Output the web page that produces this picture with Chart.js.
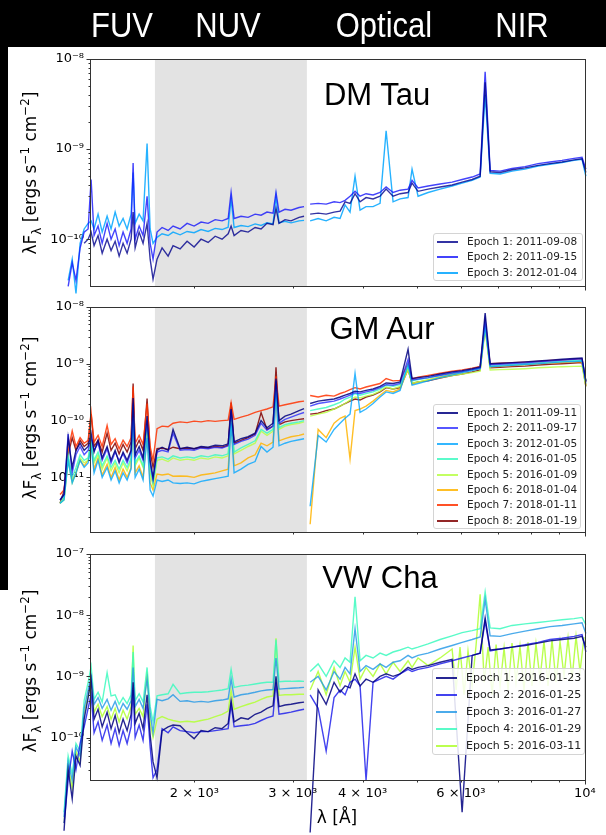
<!DOCTYPE html>
<html>
<head>
<meta charset="utf-8">
<script src="https://cdn.jsdelivr.net/npm/chart.js@4.4.1/dist/chart.umd.min.js"></script>
<style>
  body { margin: 0; background: #fff; }
  #page { position: relative; width: 606px; height: 835px; overflow: hidden; background: #fff; font-family: 'DejaVu Sans', sans-serif; }
  .black { position: absolute; background: #000; }
  canvas { position: absolute; left: 0; top: 0; }
  .region { position: absolute; top: 25px; color: #fff; font: 31px 'Liberation Sans', Arial, sans-serif; transform: translate(-50%, -50%) scaleY(1.15); white-space: nowrap; z-index: 5; }
  .star { position: absolute; color: #000; font: 31px 'Liberation Sans', Arial, sans-serif; transform: translate(-50%, -50%); white-space: nowrap; z-index: 5; }
  .ylab { position: absolute; left: 31px; font-size: 17px; color: #000; white-space: nowrap; transform: translate(-50%, -50%) rotate(-90deg); z-index: 5; }
  .ylab sub, .ylab sup { font-size: 70%; }
  .xlab { position: absolute; left: 337px; top: 817px; font-size: 17px; transform: translate(-50%, -50%); white-space: nowrap; z-index: 5; }
  .legend { position: absolute; box-sizing: border-box; background: rgba(255,255,255,0.85); border: 1px solid #d4d4d4; border-radius: 3px; font-size: 10.5px; color: #222; padding: 0 0 0 3px; z-index: 6; }
  .legend .row { height: 15.4px; line-height: 15.4px; white-space: nowrap; }
  .legend i { display: inline-block; width: 21px; height: 0; border-top: 2px solid; vertical-align: middle; margin-right: 9px; }
  #legVw { font-size: 11px; }
  #legVw .row { height: 17px; line-height: 17px; }
</style>
</head>
<body>
<div id="page">
  <div class="black" style="left:0;top:0;width:606px;height:47px"></div>
  <div class="black" style="left:0;top:47px;width:8px;height:543px"></div>
  <canvas id="dmTau" width="606" height="835"></canvas>
  <canvas id="gmAur" width="606" height="835"></canvas>
  <canvas id="vwCha" width="606" height="835"></canvas>
  <div class="region" style="left:122px">FUV</div>
  <div class="region" style="left:228px">NUV</div>
  <div class="region" style="left:384px">Optical</div>
  <div class="region" style="left:522px">NIR</div>
  <div class="star" style="left:377px;top:95px">DM Tau</div>
  <div class="star" style="left:382px;top:329px">GM Aur</div>
  <div class="star" style="left:380px;top:578px">VW Cha</div>
  <div class="ylab" style="top:173px">λF<sub>λ</sub> [ergs s<sup>−1</sup> cm<sup>−2</sup>]</div>
  <div class="ylab" style="top:418px">λF<sub>λ</sub> [ergs s<sup>−1</sup> cm<sup>−2</sup>]</div>
  <div class="ylab" style="top:671px">λF<sub>λ</sub> [ergs s<sup>−1</sup> cm<sup>−2</sup>]</div>
  <div class="xlab">λ [Å]</div>
  <div class="legend" id="legDm" style="left:433px;top:233px;width:150px"></div>
  <div class="legend" id="legGm" style="left:433px;top:404px;width:148px"></div>
  <div class="legend" id="legVw" style="left:432px;top:668px;width:153px"></div>
</div>
<script>
// wavelengths in Angstrom, shared by all three panels
const wavelength = [
  1150, 1169, 1189, 1209, 1228, 1249, 1270, 1291,
  1307, 1323, 1345, 1368, 1396, 1419, 1443, 1467, 1491, 1516, 1541, 1554, 1567, 1593, 1619, 1646, 1667, 1687,
  1715, 1751, 1795, 1832, 1886, 1941, 1998, 2056, 2117, 2179, 2242, 2299, 2327, 2356, 2424, 2496, 2569, 2633, 2698, 2766, 2800, 2835, 2906, 2979, 3079, 3143, 3183,
  3223, 3331, 3443, 3557, 3646, 3722, 3799, 3878, 3959, 4058, 4177, 4299, 4408, 4536, 4669, 4825, 4905, 5028, 5240, 5506, 5785, 6029, 6283, 6494, 6629, 6767, 7050, 7406, 7813, 8245, 8661, 9100, 9562, 9882, 10040
];
// finer sampling of the red end, used for the noisy VW Cha epoch 5 spectrum
const redWavelength = [
  5506, 5785, 5882, 5977, 6077, 6177, 6281, 6385, 6494, 6602, 6711, 6823, 6935, 7050, 7167, 7286, 7405, 7528,
  7653, 7780, 7910, 8041, 8174, 8311, 8449, 8589, 8732, 8877, 9025, 9175, 9328, 9483, 9641, 9801, 9964
];
// flux values are in units of 1e-10 erg s^-1 cm^-2
const FLUX_UNIT = 1e-10;

// DM Tau
const dmTauLabels = ['Epoch 1: 2011-09-08', 'Epoch 2: 2011-09-15', 'Epoch 3: 2012-01-04'];
const dmTauEpoch1 = [
  null, null, null, null, null, null, 0.9, 1.0,
  1.2, 0.85, 1.1, 0.7, 1.0, 0.75, 0.95, 0.65, 0.9, 0.7, 1.0, 2.0, 0.8, 1.2, 0.9, 1.5, 0.6, 0.36,
  0.6, 0.8, 0.65, 0.85, 0.78, 0.95, 0.82, 1.0, 0.92, 1.08, 1.0, 1.15, 1.4, 1.1, 1.25, 1.2, 1.35, 1.3, 1.5, 1.45, 2.2, 1.5, 1.65, 1.6, 1.75, 1.8, null,
  1.9, 1.95, 1.9, 2.0, 2.05, 2.6, 2.5, 3.2, 2.6, 2.9, 2.8, 3.0, 3.6, 3.0, 3.2, 3.3, 4.2, 3.4, 3.6, 3.8, 4.0, 4.3, 4.6, 5.0, 55, 5.6, 5.5, 5.9, 6.2, 6.6, 6.9, 7.2, 7.6, 7.8, 5.5
];
const dmTauEpoch2 = [
  null, null, 0.3, 0.55, 0.35, 0.8, 1.2, 1.3,
  4.6, 1.1, 1.4, 0.9, 1.5, 1.0, 1.3, 0.85, 1.2, 0.9, 1.3, 7.0, 1.0, 1.4, 1.1, 3.0, 0.9, 0.6,
  1.2, 1.35, 1.25, 1.4, 1.3, 1.5, 1.4, 1.55, 1.5, 1.65, 1.6, 1.7, 3.3, 1.7, 1.8, 1.75, 1.9, 1.85, 2.0, 1.95, 3.3, 2.0, 2.15, 2.1, 2.25, 2.3, null,
  2.45, 2.5, 2.45, 2.6, 2.55, 2.7, 3.0, 3.4, 3.0, 3.2, 3.1, 3.3, 3.8, 3.3, 3.5, 3.6, 4.5, 3.7, 3.9, 4.1, 4.3, 4.6, 4.9, 5.3, 72, 5.8, 5.7, 6.1, 6.4, 6.9, 7.2, 7.5, 7.9, 8.1, 6.0
];
const dmTauEpoch3 = [
  null, null, 0.35, 0.6, 0.25, 0.9, 1.3, 1.5,
  1.6, 1.3, 1.9, 1.2, 1.8, 1.3, 2.0, 1.4, 1.7, 1.3, 1.9, 5.5, 1.5, 1.9, 1.6, 11.5, 1.3, 0.9,
  1.05, 1.15, 1.1, 1.2, 1.12, 1.22, 1.18, 1.28, 1.22, 1.32, 1.28, 1.36, 2.8, 1.35, 1.42, 1.38, 1.48, 1.42, 1.52, 1.48, 3.0, 1.52, 1.58, 1.52, 1.6, 1.62, null,
  1.6, 1.7, 1.6, 1.75, 1.7, 2.4, 2.0, 5.0, 2.1, 2.3, 2.3, 2.5, 16, 2.6, 2.8, 2.9, 6.0, 3.0, 3.3, 3.6, 3.9, 4.2, 4.5, 4.9, 40, 5.4, 5.3, 5.7, 6.0, 6.5, 6.8, 7.1, 7.5, 7.7, 5.0
];

// GM Aur
const gmAurLabels = ['Epoch 1: 2011-09-11', 'Epoch 2: 2011-09-17', 'Epoch 3: 2012-01-05', 'Epoch 4: 2016-01-05',
  'Epoch 5: 2016-01-09', 'Epoch 6: 2018-01-04', 'Epoch 7: 2018-01-11', 'Epoch 8: 2018-01-19'];
const gmAurEpoch1 = [
  0.04, 0.05, 0.5, 0.15, 0.3, 0.4, 0.3, 0.35,
  0.6, 0.28, 0.45, 0.22, 0.35, 0.2, 0.3, 0.18, 0.28, 0.2, 0.3, 2.5, 0.25, 0.35, 0.22, 1.2, 0.2, 0.1,
  0.3, 0.34, 0.3, 0.7, 0.32, 0.34, 0.32, 0.35, 0.34, 0.37, 0.36, 0.39, 1.6, 0.42, 0.48, 0.52, 0.6, 1.0, 0.75, 0.9, 5.5, 1.0, 1.2, 1.3, 1.5, 1.63, null,
  2.0, 2.2, 2.3, 2.4, 2.6, 2.8, 3.0, 3.3, 3.2, 3.4, 3.6, 4.0, 4.6, 4.5, 4.8, 18, 5.5, 5.7, 6.0, 6.6, 7.2, 7.6, 8.2, 8.8, 78, 10.0, 10.2, 10.5, 10.8, 11.2, 11.6, 12.0, 12.4, 12.6, 5.0
];
const gmAurEpoch2 = [
  0.04, 0.05, 0.58, 0.12, 0.25, 0.35, 0.25, 0.3,
  0.5, 0.3, 0.4, 0.2, 0.32, 0.18, 0.28, 0.2, 0.26, 0.18, 0.28, 2.0, 0.22, 0.3, 0.2, 1.0, 0.18, 0.09,
  0.28, 0.3, 0.28, 0.6, 0.3, 0.31, 0.3, 0.33, 0.32, 0.34, 0.33, 0.36, 1.5, 0.38, 0.43, 0.47, 0.55, 0.9, 0.68, 0.8, 5.0, 0.9, 1.05, 1.15, 1.3, 1.39, null,
  1.8, 2.0, 2.1, 2.2, 2.4, 2.6, 2.8, 3.1, 3.0, 3.2, 3.4, 3.8, 4.3, 4.2, 4.5, 12, 5.2, 5.4, 5.7, 6.3, 6.9, 7.3, 7.9, 8.5, 60, 9.6, 9.8, 10.1, 10.4, 10.8, 11.2, 11.6, 12.0, 12.2, 4.8
];
const gmAurEpoch3 = [
  0.035, 0.04, 0.2, 0.08, 0.12, 0.2, 0.15, 0.18,
  0.35, 0.12, 0.2, 0.1, 0.15, 0.09, 0.13, 0.08, 0.12, 0.09, 0.14, 1.2, 0.1, 0.14, 0.09, 0.5, 0.06, 0.047,
  0.09, 0.085, 0.09, 0.08, 0.078, 0.08, 0.077, 0.085, 0.09, 0.095, 0.1, 0.105, 0.9, 0.12, 0.14, 0.17, 0.19, 0.35, 0.28, 0.34, 3.0, 0.36, 0.4, 0.43, 0.46, 0.48, null,
  0.031, 0.55, 0.42, 0.7, 0.9, 1.1, 1.3, 6.8, 1.4, 1.6, 2.0, 2.6, 3.2, 3.0, 3.4, 10, 4.2, 4.5, 5.0, 5.7, 6.4, 7.0, 7.6, 8.2, 45, 8.9, 9.1, 9.4, 9.7, 10.0, 10.4, 10.8, 11.0, 11.2, 4.5
];
const gmAurEpoch4 = [
  0.035, 0.045, 0.25, 0.1, 0.15, 0.25, 0.2, 0.22,
  0.45, 0.2, 0.28, 0.16, 0.24, 0.15, 0.2, 0.14, 0.2, 0.15, 0.22, 1.8, 0.18, 0.24, 0.16, 0.8, 0.14, 0.08,
  0.22, 0.23, 0.21, 0.24, 0.22, 0.23, 0.22, 0.24, 0.23, 0.25, 0.24, 0.26, 1.2, 0.28, 0.33, 0.38, 0.44, 0.7, 0.6, 0.7, 4.0, 0.75, 0.85, 0.9, 0.95, 1.0, null,
  1.5, 1.6, 1.7, 1.9, 2.1, 2.4, 2.6, 3.0, 2.8, 3.0, 3.2, 3.6, 4.2, 4.0, 4.3, 9, 5.0, 5.3, 5.6, 6.2, 6.8, 7.2, 7.8, 8.4, 50, 9.2, 9.4, 9.7, 10.0, 10.4, 10.8, 11.0, 11.3, 11.5, 5.0
];
const gmAurEpoch5 = [
  0.035, 0.04, 0.2, 0.08, 0.12, 0.22, 0.18, 0.2,
  0.4, 0.18, 0.25, 0.14, 0.22, 0.13, 0.18, 0.12, 0.18, 0.13, 0.2, 1.6, 0.16, 0.22, 0.15, 0.7, 0.12, 0.07,
  0.2, 0.21, 0.19, 0.22, 0.2, 0.21, 0.2, 0.22, 0.21, 0.23, 0.22, 0.24, 1.1, 0.26, 0.3, 0.35, 0.4, 0.65, 0.55, 0.65, 3.5, 0.7, 0.8, 0.85, 0.9, 0.95, null,
  1.2, 1.3, 1.4, 1.6, 1.8, 2.0, 2.3, 2.6, 2.5, 2.7, 2.9, 3.3, 3.9, 3.6, 4.0, 8, 4.6, 4.8, 5.2, 5.7, 6.2, 6.6, 7.0, 7.4, 40, 7.8, 7.9, 8.0, 8.2, 8.5, 8.7, 8.9, 9.0, 9.1, 4.0
];
const gmAurEpoch6 = [
  0.035, 0.045, 0.22, 0.09, 0.12, 0.2, 0.16, 0.2,
  0.4, 0.14, 0.22, 0.11, 0.17, 0.1, 0.15, 0.09, 0.14, 0.1, 0.15, 1.3, 0.12, 0.16, 0.1, 0.6, 0.08, 0.06,
  0.115, 0.11, 0.115, 0.105, 0.106, 0.105, 0.1, 0.11, 0.115, 0.12, 0.13, 0.14, 1.0, 0.16, 0.18, 0.22, 0.25, 0.4, 0.36, 0.42, 3.2, 0.44, 0.48, 0.52, 0.55, 0.58, null,
  0.015, 0.7, 0.5, 0.9, 1.1, 1.2, 0.21, 1.5, 1.6, 1.8, 2.2, 2.8, 3.4, 3.2, 3.6, 8, 4.4, 4.7, 5.2, 5.9, 6.6, 7.2, 7.8, 8.4, 42, 8.8, 9.0, 9.3, 9.6, 10.0, 10.3, 10.5, 10.8, 11.0, 4.2
];
const gmAurEpoch7 = [
  0.05, 0.06, 0.3, 0.66, 0.35, 0.5, 0.4, 0.45,
  1.4, 0.42, 0.55, 0.35, 0.82, 0.38, 0.48, 0.32, 0.45, 0.35, 0.5, 4.0, 0.4, 0.55, 0.38, 2.0, 0.35, 0.2,
  0.72, 0.8, 0.78, 0.9, 0.95, 0.92, 0.98, 0.95, 1.0, 0.97, 1.0, 1.02, 2.08, 1.05, 1.15, 1.25, 1.4, 1.5, 1.6, 1.75, 6, 1.8, 1.9, 2.0, 2.15, 2.2, null,
  2.77, 2.6, 2.8, 2.7, 3.0, 3.2, 3.5, 3.8, 3.6, 3.9, 4.2, 4.5, 5.5, 5.0, 5.1, 10, 5.4, 5.8, 6.25, 6.8, 7.4, 7.8, 8.4, 9.0, 55, 10.0, 10.2, 10.5, 10.7, 11.0, 11.4, 11.7, 12.0, 12.2, 4.8
];
const gmAurEpoch8 = [
  0.035, 0.058, 0.25, 0.5, 0.3, 0.45, 0.35, 0.4,
  1.3, 0.35, 0.45, 0.28, 0.6, 0.3, 0.4, 0.26, 0.38, 0.28, 0.42, 4.5, 0.32, 0.45, 0.3, 2.45, 0.28, 0.15,
  0.32, 0.33, 0.31, 0.34, 0.32, 0.33, 0.32, 0.34, 0.33, 0.35, 0.34, 0.37, 2.08, 0.4, 0.45, 0.5, 0.58, 1.39, 0.7, 0.8, 8.67, 0.85, 0.95, 1.0, 1.05, 1.08, null,
  1.3, 1.35, 1.5, 1.6, 1.8, 2.0, 2.2, 2.4, 2.3, 2.6, 2.8, 3.2, 3.8, 3.6, 3.8, 8, 4.5, 4.8, 5.0, 5.6, 6.2, 6.6, 7.2, 7.8, 50, 8.5, 8.7, 8.9, 9.1, 9.5, 9.8, 10.0, 10.3, 10.5, 4.0
];

// VW Cha
const vwChaLabels = ['Epoch 1: 2016-01-23', 'Epoch 2: 2016-01-25', 'Epoch 3: 2016-01-27', 'Epoch 4: 2016-01-29', 'Epoch 5: 2016-03-11'];
const vwChaEpoch1 = [
  null, 0.03, 0.3, 0.1, 0.5, 0.35, 2.0, 4.5,
  9, 2.0, 2.9, 1.5, 2.6, 1.4, 2.3, 1.2, 2.0, 1.3, 2.4, 8, 1.7, 2.5, 1.4, 5, 1.1, 0.4,
  0.22, 1.3, 1.5, 1.6, 1.56, 1.2, 0.96, 1.3, 1.25, 1.45, 1.4, 1.7, 4, 1.8, 2.1, 2.0, 2.4, 2.6, 3.0, 3.3, 10, 3.2, 3.4, 3.5, 3.7, 3.8, null,
  0.028, 6, 3.5, 8, 5.5, 7, 6.5, 11, 7, 9, 8, 10, 11, 10, 11, 14, 13, 14, 15, 17, 19, 0.06, 22, 24, 90, 27, 28, 30, 32, 35, 38, 40, 42, 45, 30
];
const vwChaEpoch2 = [
  null, 0.04, 0.2, 0.6, 0.3, 0.8, 1.5, 3.0,
  5, 1.2, 1.8, 0.9, 1.6, 0.8, 1.4, 0.74, 1.3, 0.8, 1.5, 6, 1.0, 1.6, 0.9, 3.5, 0.7, 0.22,
  0.3, 1.4, 1.2, 1.5, 1.3, 1.25, 1.2, 1.25, 1.25, 1.3, 1.35, 1.4, 3.5, 1.5, 1.56, 1.6, 1.7, 1.9, 2.1, 2.26, 8, 2.4, 2.5, 2.6, 2.8, 2.9, null,
  5, 3, 0.6, 4.5, 6, 5, 8, 9, 7, 0.2, 8, 9, 10, 9, 11, 13, 12, 13, 14, 16, 18, 20, 22, 24, 80, 26, 28, 30, 33, 36, 40, 42, 45, 48, 25
];
const vwChaEpoch3 = [
  null, 0.05, 0.4, 0.2, 0.7, 0.5, 3.0, 6.0,
  10, 3.5, 4.5, 3.0, 4.2, 2.8, 3.9, 2.6, 3.6, 2.9, 4.0, 14, 3.2, 4.2, 3.0, 9, 2.5, 1.2,
  4.2, 4.0, 4.3, 5.0, 3.9, 4.0, 3.8, 3.9, 3.8, 4.0, 4.1, 4.3, 9, 4.6, 5.0, 5.2, 5.5, 5.8, 6.0, 6.1, 20, 6.2, 6.3, 6.4, 6.5, 6.6, null,
  8, 10, 6, 12, 9, 14, 11, 60, 12, 15, 13, 16, 14, 17, 18, 22, 20, 22, 24, 28, 32, 36, 40, 44, 180, 46, 45, 50, 55, 60, 65, 68, 72, 75, 50
];
const vwChaEpoch4 = [
  null, 0.06, 0.5, 0.25, 0.8, 0.6, 4.0, 8.0,
  14.5, 4.2, 5.5, 3.8, 11.5, 4.8, 5.0, 3.5, 4.5, 3.6, 5.0, 25, 4.0, 5.2, 3.8, 14, 3.2, 1.8,
  4.8, 5.0, 5.2, 7.4, 5.2, 5.4, 5.5, 5.5, 5.6, 5.8, 6.0, 6.3, 13, 6.6, 7.0, 7.2, 7.5, 7.8, 8.0, 8.0, 40, 8.2, 8.3, 8.3, 8.4, 8.3, null,
  12, 16, 10, 18, 14, 20, 17, 200, 18, 22, 20, 24, 22, 25, 27, 30, 28, 30, 34, 40, 46, 52, 56, 60, 240, 62, 60, 68, 72, 76, 80, 84, 88, 92, 70
];
const vwChaEpoch5 = [
  null, 0.04, 0.35, 0.15, 0.6, 0.4, 2.5, 5.0,
  8, 2.6, 3.5, 2.2, 3.2, 2.0, 3.0, 1.8, 2.8, 2.0, 3.2, 32, 2.4, 3.0, 2.2, 12, 1.8, 1.0,
  2.0, 2.2, 2.0, 1.9, 1.8, 1.85, 1.8, 1.9, 2.0, 2.2, 2.4, 2.7, 6, 2.9, 3.2, 3.5, 3.8, 4.2, 4.6, 4.8, 42, 4.9, 5.0, 5.0, 5.1, 5.1, null,
  6, 12, 5, 14, 7, 12, 8, 30, 9, 14, 10, 16, 11, 17, 12, 18, 14, 20, 15, 20,
  null, null, null, null, null, null, null, null, null, null, null, null, null, null, null
];
// epoch 5 red end on the finer grid (redWavelength)
const vwChaEpoch5Red = [
  20, 28, 6, 30, 5, 26, 7, 32, 220, 8, 30, 5, 33, 7, 29, 6, 35, 8, 31, 6, 36, 7, 34, 9, 38, 7, 40, 8, 37, 10, 42, 9, 45, 12, 44
];

// axes
const xMin = 1301, xMax = 10045;
const nuvBand = [1700, 3180];
const xTickValues = [2000, 3000, 4000, 5000, 6000, 7000, 8000, 9000, 10000];
const xTickLabels = ['2 × 10³', '3 × 10³', '4 × 10³', '', '6 × 10³', '', '', '', '10⁴'];
const dmTauYTicks = [[1e-10, '10⁻¹⁰'], [1e-9, '10⁻⁹'], [1e-8, '10⁻⁸']];
const gmAurYTicks = [[1e-11, '10⁻¹¹'], [1e-10, '10⁻¹⁰'], [1e-9, '10⁻⁹'], [1e-8, '10⁻⁸']];
const vwChaYTicks = [[1e-10, '10⁻¹⁰'], [1e-9, '10⁻⁹'], [1e-8, '10⁻⁸'], [1e-7, '10⁻⁷']];

const dmTauColors = ['rgba(0,0,140,0.8)', 'rgba(20,20,250,0.8)', 'rgba(0,165,255,0.85)'];
const gmAurColors = ['rgba(0,0,128,0.85)', 'rgba(30,30,255,0.75)', 'rgba(0,165,255,0.8)', 'rgba(50,250,190,0.8)',
  'rgba(185,255,70,0.85)', 'rgba(255,180,0,0.85)', 'rgba(255,50,0,0.85)', 'rgba(128,0,0,0.85)'];
const vwChaColors = ['rgba(0,0,128,0.85)', 'rgba(20,20,235,0.8)', 'rgba(30,150,230,0.8)', 'rgba(60,250,190,0.85)', 'rgba(180,255,60,0.9)'];

function isNice(v) {
  const m = v / Math.pow(10, Math.floor(Math.log10(v) + 1e-9));
  return Math.abs(m - Math.round(m)) < 1e-6;
}
function isDecade(v) {
  const l = Math.log10(v);
  return Math.abs(l - Math.round(l)) < 1e-6;
}

const frame = {
  id: 'frame',
  beforeDatasetsDraw(chart) {
    const {ctx, chartArea: a, scales: {x}} = chart;
    const x0 = x.getPixelForValue(nuvBand[0]);
    const x1 = x.getPixelForValue(nuvBand[1]);
    ctx.save();
    ctx.fillStyle = '#e3e3e3';
    ctx.fillRect(x0, a.top, x1 - x0, a.bottom - a.top);
    ctx.restore();
  },
  afterDatasetsDraw(chart) {
    const {ctx, chartArea: a, scales: {x, y}} = chart;
    const L = Math.round(a.left) + 0.5, R = Math.round(a.right) - 0.5;
    const T = Math.round(a.top) + 0.5, B = Math.round(a.bottom) - 0.5;
    ctx.save();
    ctx.strokeStyle = '#333';
    ctx.lineWidth = 1;
    ctx.strokeRect(L, T, R - L, B - T);
    ctx.beginPath();
    xTickValues.forEach(v => {
      const px = Math.round(x.getPixelForValue(v)) + 0.5;
      const len = isDecade(v) ? 4 : 2;
      ctx.moveTo(px, B);
      ctx.lineTo(px, B + len);
    });
    y.ticks.forEach(t => {
      if (!isNice(t.value)) return;
      const py = Math.round(y.getPixelForValue(t.value)) + 0.5;
      const len = isDecade(t.value) ? 4 : 2;
      ctx.moveTo(L, py);
      ctx.lineTo(L - len, py);
    });
    ctx.stroke();
    ctx.restore();
  }
};

const toPoints = (s, wl) => wl.map((w, i) => ({x: w, y: s[i] == null ? null : s[i] * FLUX_UNIT}));

// series: list of {values, color, wl}
function makePanel(id, series, yMin, yMax, yTicks, top, bottom, showX) {
  return new Chart(document.getElementById(id), {
    type: 'line',
    data: {
      datasets: series.map(s => ({
        data: toPoints(s.values, s.wl || wavelength),
        borderColor: s.color,
        borderWidth: 1.4,
        pointRadius: 0,
        spanGaps: false,
        clip: false
      }))
    },
    options: {
      responsive: false,
      animation: false,
      devicePixelRatio: 1,
      layout: {padding: {left: 30, right: 20, top: top, bottom: 835 - bottom - 30}},
      plugins: {legend: {display: false}, tooltip: {enabled: false}},
      scales: {
        x: {
          type: 'logarithmic',
          bounds: 'data',
          // range set after the data limits so that points left of the axis are still drawn
          afterDataLimits: s => { s.min = xMin; s.max = xMax; },
          grid: {display: false, drawTicks: false},
          border: {display: false},
          afterFit: s => { s.height = 30; },
          afterBuildTicks: s => { s.ticks = xTickValues.map(v => ({value: v})); },
          ticks: {
            autoSkip: false, maxRotation: 0, minRotation: 0, padding: 5, color: '#000',
            font: {family: 'DejaVu Sans', size: 13},
            callback: (v, i) => showX ? xTickLabels[i] : ''
          }
        },
        y: {
          type: 'logarithmic', min: yMin, max: yMax,
          grid: {display: false, drawTicks: false},
          border: {display: false},
          afterFit: s => { s.width = 60; },
          ticks: {
            autoSkip: false, padding: 6, color: '#000',
            font: {family: 'DejaVu Sans', size: 13},
            callback: v => {
              const hit = yTicks.find(p => Math.abs(Math.log10(p[0]) - Math.log10(v)) < 1e-6);
              return hit ? hit[1] : '';
            }
          }
        }
      }
    },
    plugins: [frame]
  });
}

const dmTauSeries = [dmTauEpoch1, dmTauEpoch2, dmTauEpoch3].map((v, i) => ({values: v, color: dmTauColors[i]}));
const gmAurSeries = [gmAurEpoch1, gmAurEpoch2, gmAurEpoch3, gmAurEpoch4, gmAurEpoch5, gmAurEpoch6, gmAurEpoch7, gmAurEpoch8]
  .map((v, i) => ({values: v, color: gmAurColors[i]}));
const vwChaSeries = [vwChaEpoch1, vwChaEpoch2, vwChaEpoch3, vwChaEpoch4, vwChaEpoch5].map((v, i) => ({values: v, color: vwChaColors[i]}));
vwChaSeries.push({values: vwChaEpoch5Red, color: vwChaColors[4], wl: redWavelength});

makePanel('dmTau', dmTauSeries, 2.95e-11, 1e-8, dmTauYTicks, 59, 287, false);
makePanel('gmAur', gmAurSeries, 1.05e-12, 1e-8, gmAurYTicks, 307, 533, false);
makePanel('vwCha', vwChaSeries, 1.95e-11, 1e-7, vwChaYTicks, 554, 781, true);

function fillLegend(id, labels, colors) {
  const box = document.getElementById(id);
  labels.forEach((t, i) => {
    const row = document.createElement('div');
    row.className = 'row';
    row.innerHTML = '<i style="border-top-color:' + colors[i] + '"></i>' + t;
    box.appendChild(row);
  });
}
fillLegend('legDm', dmTauLabels, dmTauColors);
fillLegend('legGm', gmAurLabels, gmAurColors);
fillLegend('legVw', vwChaLabels, vwChaColors);
</script>
</body>
</html>
